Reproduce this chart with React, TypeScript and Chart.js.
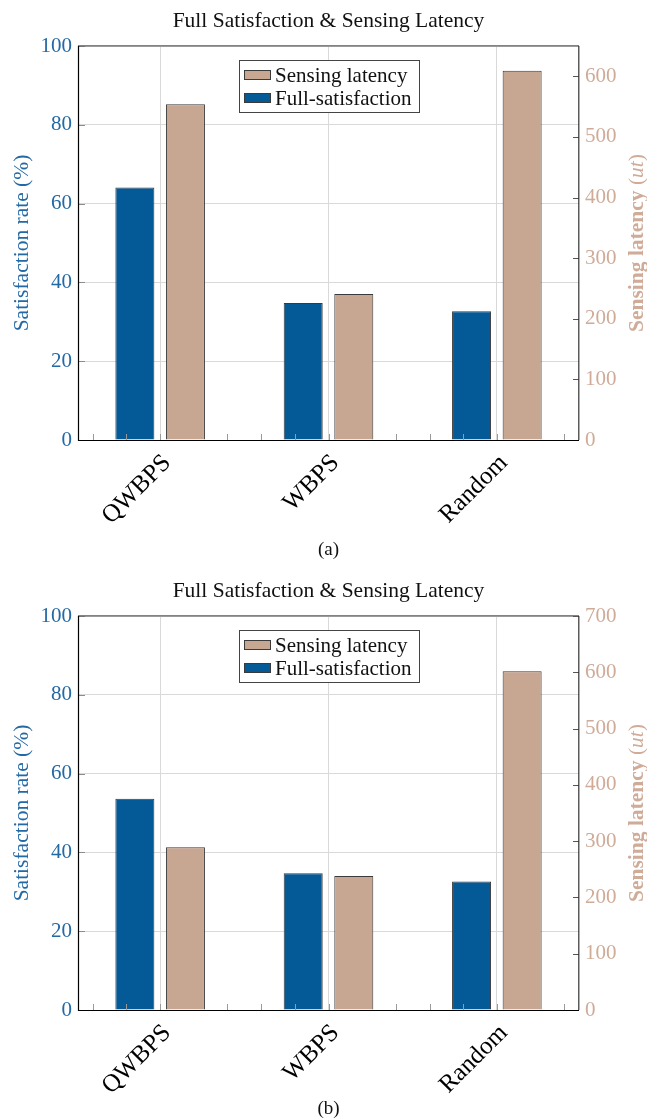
import React, { useEffect, useRef } from 'react';
import { Chart, registerables } from 'chart.js';

Chart.register(...registerables);

// ---- data ----
const methods = ['QWBPS', 'WBPS', 'Random'];
const seriesNames = ['Full-satisfaction', 'Sensing latency'];

// panel (a)
const satisfactionA = [64.1, 34.8, 32.7];
const latencyA = [554, 241, 609];
const latencyTicksA = [0, 100, 200, 300, 400, 500, 600];
const latencyMaxA = 650;

// panel (b)
const satisfactionB = [53.6, 34.7, 32.6];
const latencyB = [289, 238, 602];
const latencyTicksB = [0, 100, 200, 300, 400, 500, 600, 700];
const latencyMaxB = 700;

const satisfactionTicks = [0, 20, 40, 60, 80, 100];
const satisfactionMax = 100;

const chartTitle = 'Full Satisfaction & Sensing Latency';
const satisfactionAxisTitle = 'Satisfaction rate (%)';
const latencyAxisTitle = 'Sensing latency ';
const latencyUnit = 'ut';

// ---- styling ----
const WIDTH = 647;
const PLOT_LEFT = 78;
const PLOT_RIGHT = 579;
const PLOT_TOP = 46;
const PLOT_BOTTOM = 440;
const X_MIN = -0.488;
const X_MAX = 2.488;
const MINOR_STEP = 0.2;

const SERIF = "'Liberation Serif', 'Times New Roman', serif";
const BLUE = '#045a97';
const TAN = '#c7a692';
const EDGE = '#3a3a3a';
const BLUE_TEXT = '#2369a5';
const TAN_TEXT = '#cfab98';
const GRID = '#d9d9d9';

const decorations = {
  id: 'decorations',
  afterDatasetsDraw(chart: any) {
    const { ctx, chartArea: a, scales } = chart;
    const xs = scales.x;
    const ys = scales.y;
    const y1 = scales.y1;
    const tanBars = chart.getDatasetMeta(1).data;
    const underTan = (px: number) =>
      tanBars.some((bar: any) => {
        const { x, width } = bar.getProps(['x', 'width'], true);
        return px > x - width / 2 - 0.5 && px < x + width / 2 + 0.5;
      });

    ctx.save();
    ctx.lineWidth = 1;

    // minor ticks along the bottom axis
    ctx.strokeStyle = '#9a9a9a';
    const first = Math.ceil(X_MIN / MINOR_STEP);
    const last = Math.floor(X_MAX / MINOR_STEP);
    for (let i = first; i <= last; i++) {
      const px = Math.round(xs.getPixelForValue(i * MINOR_STEP)) + 0.5;
      if (underTan(px)) continue;
      ctx.beginPath();
      ctx.moveTo(px, a.bottom);
      ctx.lineTo(px, a.bottom - 6);
      ctx.stroke();
    }

    // inward ticks on the left axis
    ctx.strokeStyle = '#8c8c8c';
    ys.ticks.forEach((t: any) => {
      const py = Math.round(ys.getPixelForValue(t.value)) + 0.5;
      ctx.beginPath();
      ctx.moveTo(a.left, py);
      ctx.lineTo(a.left + 7, py);
      ctx.stroke();
    });

    // inward ticks on the right axis
    ctx.strokeStyle = '#555';
    y1.ticks.forEach((t: any) => {
      const py = Math.round(y1.getPixelForValue(t.value)) + 0.5;
      ctx.beginPath();
      ctx.moveTo(a.right - 6, py);
      ctx.lineTo(a.right, py);
      ctx.stroke();
    });

    // axis frame
    ctx.strokeStyle = '#5a5a5a';
    ctx.lineWidth = 1.3;
    ctx.beginPath();
    ctx.moveTo(a.left, a.top - 0.2);
    ctx.lineTo(a.right, a.top - 0.2);
    ctx.stroke();
    ctx.strokeStyle = '#333';
    ctx.lineWidth = 1.2;
    ctx.beginPath();
    ctx.moveTo(a.right - 0.2, a.top);
    ctx.lineTo(a.right - 0.2, a.bottom);
    ctx.stroke();
    ctx.strokeStyle = '#000';
    ctx.lineWidth = 1.2;
    ctx.beginPath();
    ctx.moveTo(a.left + 0.5, a.top);
    ctx.lineTo(a.left + 0.5, a.bottom + 0.5);
    ctx.lineTo(a.right, a.bottom + 0.5);
    ctx.stroke();
    ctx.restore();
  },
  afterDraw(chart: any, _args: any, opts: any) {
    const { ctx, chartArea: a } = chart;
    const cx = (a.left + a.right) / 2;
    const cy = (a.top + a.bottom) / 2;
    ctx.save();

    // title
    ctx.fillStyle = '#111';
    ctx.font = `21.5px ${SERIF}`;
    ctx.textAlign = 'center';
    ctx.textBaseline = 'alphabetic';
    ctx.fillText(chartTitle, cx, 27);

    // left axis title
    ctx.save();
    ctx.translate(27.5, cy);
    ctx.rotate(-Math.PI / 2);
    ctx.fillStyle = BLUE_TEXT;
    ctx.font = `21.5px ${SERIF}`;
    ctx.textAlign = 'center';
    ctx.fillText(satisfactionAxisTitle, 0, 0);
    ctx.restore();

    // right axis title: bold words, italic unit in regular parentheses
    ctx.save();
    ctx.translate(643, cy);
    ctx.rotate(-Math.PI / 2);
    ctx.fillStyle = TAN_TEXT;
    ctx.textAlign = 'left';
    const parts = [
      { text: latencyAxisTitle, font: `bold 21.5px ${SERIF}` },
      { text: '(', font: `21.5px ${SERIF}` },
      { text: latencyUnit, font: `italic 21.5px ${SERIF}` },
      { text: ')', font: `21.5px ${SERIF}` },
    ];
    let total = 0;
    parts.forEach((p) => {
      ctx.font = p.font;
      total += ctx.measureText(p.text).width;
    });
    let px = -total / 2;
    parts.forEach((p) => {
      ctx.font = p.font;
      ctx.fillText(p.text, px, 0);
      px += ctx.measureText(p.text).width;
    });
    ctx.restore();

    // legend inside the plot, latency entry first
    const entries = [chart.data.datasets[1], chart.data.datasets[0]];
    ctx.font = `21px ${SERIF}`;
    const textW = Math.max(...entries.map((d: any) => ctx.measureText(d.label).width));
    const boxW = Math.round(5 + 27 + 4 + textW + 8);
    const boxH = 52;
    const boxX = Math.round(cx - boxW / 2);
    const boxY = Math.round(a.top + 13.5);
    ctx.fillStyle = '#fff';
    ctx.fillRect(boxX, boxY, boxW, boxH);
    ctx.strokeStyle = '#444';
    ctx.lineWidth = 1;
    ctx.strokeRect(boxX + 0.5, boxY + 0.5, boxW, boxH);
    entries.forEach((d: any, i: number) => {
      const sy = boxY + 10 + i * 23.3;
      ctx.fillStyle = d.backgroundColor;
      ctx.fillRect(boxX + 5, sy, 27, 9);
      ctx.strokeStyle = EDGE;
      ctx.strokeRect(boxX + 5.5, Math.round(sy) + 0.5, 26, 9);
      ctx.fillStyle = '#111';
      ctx.textAlign = 'left';
      ctx.fillText(d.label, boxX + 36, sy + 12);
    });

    // panel caption
    ctx.fillStyle = '#111';
    ctx.font = `19px ${SERIF}`;
    ctx.textAlign = 'center';
    ctx.fillText(opts.caption, cx, opts.captionBaseline);
    ctx.restore();
  },
};

type PanelProps = {
  satisfaction: number[];
  latency: number[];
  latencyTicks: number[];
  latencyMax: number;
  caption: string;
  captionBaseline: number;
  height: number;
  top: number;
};

function Panel(props: PanelProps) {
  const ref = useRef<HTMLCanvasElement>(null);
  const { satisfaction, latency, latencyTicks, latencyMax, caption, captionBaseline, height, top } = props;

  useEffect(() => {
    const tickFont = { family: SERIF, size: 21 };
    const chart = new Chart(ref.current as HTMLCanvasElement, {
      type: 'bar',
      data: {
        labels: methods,
        datasets: [
          {
            label: seriesNames[0],
            data: satisfaction,
            yAxisID: 'y',
            backgroundColor: BLUE,
            borderColor: EDGE,
            borderWidth: 1,
            categoryPercentage: 0.601,
            barPercentage: 0.771,
          },
          {
            label: seriesNames[1],
            data: latency,
            yAxisID: 'y1',
            backgroundColor: TAN,
            borderColor: EDGE,
            borderWidth: 1,
            categoryPercentage: 0.601,
            barPercentage: 0.771,
          },
        ],
      },
      options: {
        responsive: false,
        animation: false,
        devicePixelRatio: 1,
        layout: { padding: { top: PLOT_TOP, left: 0, right: 0, bottom: 0 } },
        plugins: {
          legend: { display: false },
          title: { display: false },
          tooltip: { enabled: false },
          decorations: { caption, captionBaseline },
        } as any,
        scales: {
          x: {
            type: 'category',
            offset: true,
            grid: { offset: false, drawTicks: false, color: GRID, lineWidth: 1 },
            border: { display: false },
            ticks: {
              color: '#000',
              font: { family: SERIF, size: 25 },
              minRotation: 45,
              maxRotation: 45,
              autoSkip: false,
              padding: 8.5,
              labelOffset: 7,
            },
            afterBuildTicks: (s: any) => {
              s._startValue = X_MIN;
              s._valueRange = X_MAX - X_MIN;
            },
            afterFit: (s: any) => {
              s.height = height - PLOT_BOTTOM;
            },
          },
          y: {
            position: 'left',
            min: 0,
            max: satisfactionMax,
            afterBuildTicks: (s: any) => {
              s.ticks = satisfactionTicks.map((v) => ({ value: v }));
            },
            grid: { drawTicks: false, color: GRID, lineWidth: 1 },
            border: { display: false },
            ticks: { color: BLUE_TEXT, font: tickFont, padding: 6 },
            afterFit: (s: any) => {
              s.width = PLOT_LEFT;
            },
          },
          y1: {
            position: 'right',
            min: 0,
            max: latencyMax,
            afterBuildTicks: (s: any) => {
              s.ticks = latencyTicks.map((v) => ({ value: v }));
            },
            grid: { drawOnChartArea: false, drawTicks: false },
            border: { display: false },
            ticks: { color: TAN_TEXT, font: tickFont, padding: 6 },
            afterFit: (s: any) => {
              s.width = WIDTH - PLOT_RIGHT;
            },
          },
        },
      } as any,
      plugins: [decorations],
    });
    return () => chart.destroy();
  }, []);

  return (
    <canvas
      ref={ref}
      width={WIDTH}
      height={height}
      style={{ position: 'absolute', left: 0, top, width: WIDTH, height, display: 'block' }}
    />
  );
}

export default function App() {
  return (
    <div style={{ position: 'absolute', left: 0, top: 0, width: WIDTH, height: 1120, background: '#fff' }}>
      <Panel
        satisfaction={satisfactionA}
        latency={latencyA}
        latencyTicks={latencyTicksA}
        latencyMax={latencyMaxA}
        caption="(a)"
        captionBaseline={555}
        height={570}
        top={0}
      />
      <Panel
        satisfaction={satisfactionB}
        latency={latencyB}
        latencyTicks={latencyTicksB}
        latencyMax={latencyMaxB}
        caption="(b)"
        captionBaseline={544}
        height={550}
        top={570}
      />
    </div>
  );
}
